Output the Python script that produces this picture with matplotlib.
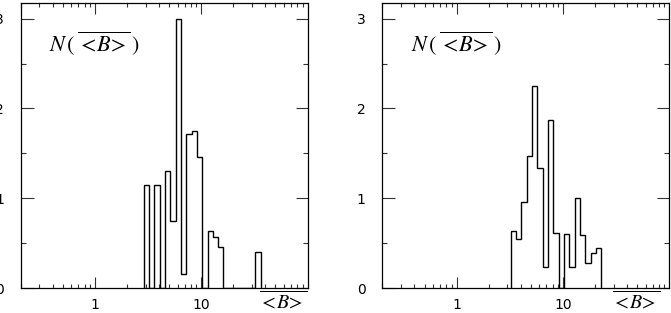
import numpy as np
import matplotlib
matplotlib.use("Agg")
import matplotlib.pyplot as plt
from matplotlib.ticker import MultipleLocator, FixedLocator, FixedFormatter, LogLocator, NullFormatter

plt.rcParams['mathtext.fontset'] = 'stix'
plt.rcParams['font.family'] = ['DejaVu Sans']

# log10 bin edges (0.05 dex bins) and heights
left_log_edges = [0.46, 0.51, 0.56, 0.61, 0.66, 0.71, 0.76, 0.81, 0.86, 0.91, 0.96,
                  1.01, 1.06, 1.11, 1.16, 1.21, 1.26, 1.31, 1.36, 1.41, 1.46, 1.51, 1.56]
left_counts = [1.15, 0.0, 1.15, 0.0, 1.30, 0.75, 3.00, 0.155, 1.715, 1.75, 1.46,
               0.0, 0.635, 0.57, 0.46, 0.0, 0.0, 0.0, 0.0, 0.0, 0.0, 0.40]

right_log_edges = [0.51, 0.56, 0.61, 0.66, 0.71, 0.76, 0.81, 0.86, 0.91, 0.96,
                   1.01, 1.06, 1.11, 1.16, 1.21, 1.26, 1.31, 1.36]
right_counts = [0.63, 0.55, 0.96, 1.47, 2.25, 1.34, 0.23, 1.87, 0.61, 0.0,
                0.60, 0.23, 1.00, 0.59, 0.28, 0.385, 0.44]

x_major = [1, 10]
x_major_labels = ['1', '10']
y_major = [0, 1, 2, 3]
y_major_labels = ['0', '1', '2', '3']

fig = plt.figure(figsize=(6.71, 3.13), dpi=100)
W, H = 671, 313
panels = [(20.5, left_log_edges, left_counts, 1.0),
          (382.3, right_log_edges, right_counts, 0.97)]

for x0, ledges, counts, xl_pos in panels:
    ax = fig.add_axes([x0 / W, 25 / H, 287 / W, 285.5 / H])
    edges = 10 ** np.array(ledges)
    ax.stairs(counts, edges, color='black', lw=1.0, baseline=0)
    ax.set_xscale('log')
    ax.set_xlim(0.2, 100)
    ax.set_ylim(0, 3.18)
    ax.xaxis.set_major_locator(FixedLocator(x_major))
    ax.xaxis.set_major_formatter(FixedFormatter(x_major_labels))
    ax.xaxis.set_minor_locator(LogLocator(base=10, subs=np.arange(2, 10), numticks=20))
    ax.xaxis.set_minor_formatter(NullFormatter())
    ax.yaxis.set_major_locator(FixedLocator(y_major))
    ax.yaxis.set_major_formatter(FixedFormatter(y_major_labels))
    ax.yaxis.set_minor_locator(MultipleLocator(0.5))
    ax.tick_params(which='both', direction='in', top=True, right=True, width=0.8, color='#333333')
    ax.tick_params(axis='x', which='major', length=8, pad=7, labelsize=10)
    ax.tick_params(axis='x', which='minor', length=3)
    ax.tick_params(axis='y', which='major', length=9, pad=12, labelsize=10)
    ax.tick_params(axis='y', which='minor', length=3.5)
    for s in ax.spines.values():
        s.set_linewidth(0.9)
    ax.text(0.1, 0.855, r'$N\,(\,\overline{<\!B\!>}\,)$', transform=ax.transAxes,
            fontsize=16, ha='left', va='center')
    ax.text(xl_pos, -0.008, r'$\overline{<\!B\!>}$', transform=ax.transAxes,
            fontsize=14.5, ha='right', va='top')

fig.savefig('out.png', dpi=100)
